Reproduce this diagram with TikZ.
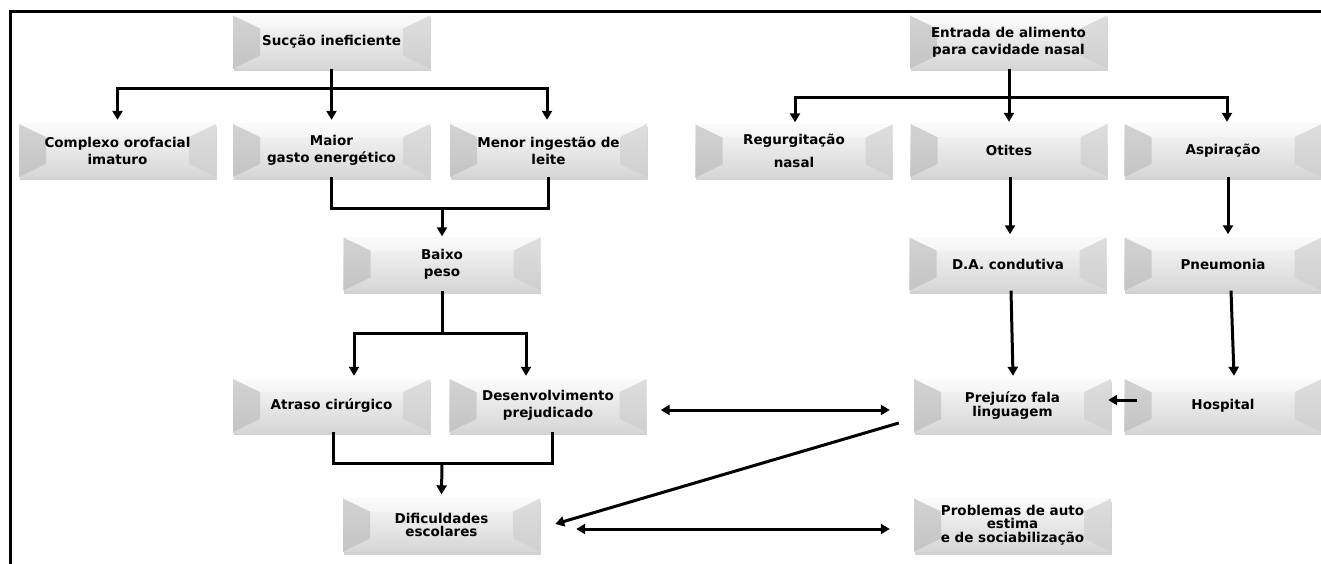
\documentclass[tikz,border=0pt]{standalone}
\usepackage{fontspec}
\setmainfont{DejaVu Sans}
\usetikzlibrary{arrows.meta,shadows,calc}
\tikzset{
 bevbox/.style={rectangle, minimum width=197pt, minimum height=53pt, inner sep=1pt, align=center,
   top color=gray!5, bottom color=gray!32, draw=none,
   drop shadow={shadow xshift=0.5pt, shadow yshift=-3pt, opacity=0.35},
   font=\bfseries\fontsize{13.5}{17}\selectfont,
   path picture={
     \fill[gray!55, opacity=0.6] (path picture bounding box.north west) -- ++(27pt,-13pt) -- ([shift={(27pt,13pt)}]path picture bounding box.south west) -- (path picture bounding box.south west) -- cycle;
     \fill[gray!40, opacity=0.6] (path picture bounding box.north east) -- ++(-27pt,-13pt) -- ([shift={(-27pt,13pt)}]path picture bounding box.south east) -- (path picture bounding box.south east) -- cycle;
     \fill[white, opacity=0.35] (path picture bounding box.north west) -- ++(27pt,-13pt) -- ([shift={(-27pt,-13pt)}]path picture bounding box.north east) -- (path picture bounding box.north east) -- cycle;
   }},
 tight/.style={font=\bfseries\fontsize{13.5}{13.5}\selectfont},
 conn/.style={line width=3pt, line join=miter},
 arr/.style={conn, -{Triangle[width=10pt,length=9pt]}},
 darr/.style={conn, {Triangle[width=10pt,length=9pt]}-{Triangle[width=10pt,length=9pt]}},
 frame/.style={line width=3pt},
}
\begin{document}
\begin{tikzpicture}[x=1pt,y=-1pt]
\useasboundingbox (0,0) rectangle (1321,564);
\fill[white] (0,0) rectangle (1321,564);
\draw[frame] (10,564) -- (10,11.5) -- (1321,11.5);

% left tree
\node[bevbox] (succ) at (331.5,42) {Sucção ineficiente};
\node[bevbox] (comp) at (117.5,150.5) {Complexo orofacial\\imaturo};
\node[bevbox] (maior) at (331.5,150.5) {Maior\\gasto energético};
\node[bevbox] (menor) at (548.5,150.5) {Menor ingestão de\\leite};
\node[bevbox] (baixo) at (442,264) {Baixo\\peso};
\node[bevbox] (atraso) at (331.5,405.5) {Atraso cirúrgico};
\node[bevbox] (desenv) at (548,405.5) {Desenvolvimento\\prejudicado};
\node[bevbox,tight] (dific) at (441.5,525) {Dificuldades\\escolares};

% right tree
\node[bevbox] (entr) at (1008.5,42) {Entrada de alimento\\para cavidade nasal};
\node[bevbox] (regu) at (794,151) {Regurgitação\\[6pt]nasal};
\node[bevbox] (otit) at (1009,150.5) {Otites};
\node[bevbox] (aspi) at (1223,150.5) {Aspiração};
\node[bevbox] (da) at (1008,264) {D.A. condutiva};
\node[bevbox] (pneu) at (1223,264) {Pneumonia};
\node[bevbox,tight] (prej) at (1012.5,405.5) {Prejuízo fala\\linguagem};
\node[bevbox] (hosp) at (1223,405.5) {Hospital};
\node[bevbox,tight] (prob) at (1012.5,525) {Problemas de auto\\estima\\e de sociabilização};

% left connectors
\coordinate (j1) at (331.5,89);
\draw[conn] (succ.south) -- (j1);
\draw[arr] (j1) -| ([yshift=4pt]comp.north);
\draw[arr] (j1) -| ([xshift=-1.5pt,yshift=4pt]menor.north);
\draw[arr] (j1) -- ([yshift=4pt]maior.north);

\coordinate (j2) at (442,208);
\draw[conn] (maior.south) |- (j2) -| (menor.south);
\draw[arr] (j2) -- ([yshift=1pt]baixo.north);

\coordinate (j3) at (442,333);
\draw[conn] (baixo.south) -- (j3);
\draw[arr] (j3) -| ([xshift=22.5pt,yshift=3pt]atraso.north);
\draw[arr] (j3) -| ([xshift=-22pt,yshift=3pt]desenv.north);

\coordinate (j4) at (442,463);
\draw[conn] ([xshift=1.5pt]atraso.south) |- (j4) -| ([xshift=4pt]desenv.south);
\draw[arr] (j4) -- ([yshift=4pt]dific.north);

% right connectors
\coordinate (j5) at (1009,98);
\draw[conn] ([xshift=0.5pt]entr.south) -- (j5);
\draw[arr] (j5) -| ([xshift=1pt,yshift=2pt]regu.north);
\draw[arr] (j5) -- ([yshift=2pt]otit.north);
\draw[arr] (j5) -| ([xshift=4pt,yshift=2pt]aspi.north);

\draw[arr] ([xshift=1pt]otit.south) -- ([xshift=2pt,yshift=3pt]da.north);
\draw[arr] ([xshift=5pt]aspi.south) -- ([xshift=5pt,yshift=3pt]pneu.north);
\draw[arr] ([xshift=3pt]da.south) -- ([xshift=0.5pt,yshift=3pt]prej.north);
\draw[arr] ([xshift=8pt]pneu.south) -- ([xshift=11pt,yshift=3pt]hosp.north);
\draw[arr] ([xshift=13pt,yshift=5.5pt]hosp.west) -- ([xshift=-3pt,yshift=5.5pt]prej.east);

% cross connectors
\draw[darr] ([xshift=14pt,yshift=-4.5pt]desenv.east) -- ([xshift=-24pt,yshift=-4.5pt]prej.west);
\draw[arr] ([xshift=-15pt,yshift=-17.5pt]prej.west) -- ([xshift=15pt,yshift=1pt]dific.east);
\draw[darr] ([xshift=36pt,yshift=-4pt]dific.east) -- ([xshift=-24pt,yshift=-4pt]prob.west);
\end{tikzpicture}
\end{document}
